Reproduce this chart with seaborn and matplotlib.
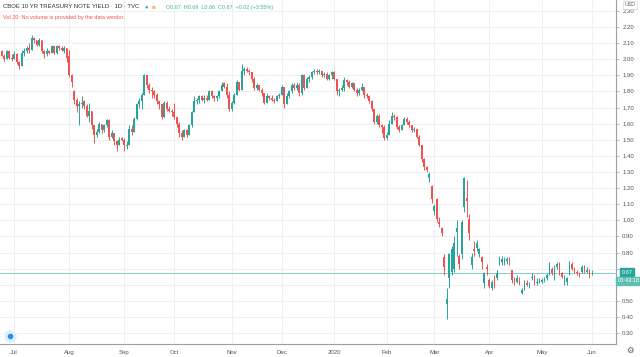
import matplotlib
matplotlib.use("Agg")
import matplotlib.pyplot as plt
from matplotlib.lines import Line2D
import seaborn as sns
import numpy as np
import pandas as pd

# trading days shown (TVC series, Jun 24 2019 .. Jun 1 2020)
holidays = ["2019-07-04", "2019-09-02", "2019-11-28", "2019-12-25", "2020-01-01",
            "2020-01-20", "2020-02-17", "2020-04-10", "2020-05-25"]
dates = pd.bdate_range("2019-06-24", "2020-06-01").drop(pd.to_datetime(holidays))

opens = [
    2.05, 2.02, 2.00, 2.05, 2.01,  # Jun
    2.00, 2.03, 1.98, 1.96, 2.04, 2.05, 2.07, 2.06, 2.13, 2.12, 2.09, 2.12, 2.05, 2.03, 2.05, 2.04, 2.08, 2.04, 2.08, 2.07, 2.05, 2.07,  # Jul
    2.02, 1.90, 1.80, 1.75, 1.71, 1.72, 1.74, 1.71, 1.65, 1.68, 1.59, 1.53, 1.55, 1.60, 1.56, 1.59, 1.62, 1.52, 1.54, 1.49, 1.47, 1.51,  # Aug
    1.50, 1.46, 1.47, 1.57, 1.55, 1.63, 1.72, 1.74, 1.78, 1.90, 1.84, 1.81, 1.80, 1.78, 1.74, 1.72, 1.64, 1.73, 1.69, 1.68,  # Sep
    1.67, 1.64, 1.60, 1.54, 1.52, 1.56, 1.53, 1.59, 1.67, 1.74, 1.75, 1.77, 1.75, 1.76, 1.75, 1.80, 1.77, 1.76, 1.77, 1.80, 1.85, 1.83, 1.78,  # Oct
    1.69, 1.73, 1.78, 1.86, 1.81, 1.93, 1.94, 1.93, 1.92, 1.88, 1.82, 1.84, 1.81, 1.79, 1.73, 1.77, 1.76, 1.75, 1.74, 1.77,  # Nov
    1.78, 1.83, 1.72, 1.77, 1.80, 1.84, 1.82, 1.84, 1.79, 1.90, 1.82, 1.88, 1.89, 1.92, 1.93, 1.92, 1.93, 1.90, 1.91, 1.88, 1.90,  # Dec
    1.92, 1.88, 1.80, 1.81, 1.82, 1.87, 1.86, 1.83, 1.85, 1.81, 1.79, 1.81, 1.83, 1.78, 1.77, 1.74, 1.69, 1.61, 1.65, 1.59, 1.58,  # Jan
    1.51, 1.53, 1.60, 1.65, 1.64, 1.58, 1.56, 1.59, 1.63, 1.61, 1.59, 1.56, 1.57, 1.52, 1.47, 1.38, 1.33, 1.26, 1.21,  # Feb
    1.06, 1.13, 0.99, 0.95, 0.77, 0.48, 0.64, 0.68, 0.70, 0.93, 0.78, 0.79, 1.08, 1.14, 1.01, 0.72, 0.82, 0.83, 0.79, 0.77, 0.61, 0.71,  # Mar
    0.63, 0.58, 0.64, 0.64, 0.74, 0.74, 0.75, 0.75, 0.76, 0.69, 0.63, 0.62, 0.64, 0.55, 0.58, 0.61, 0.60, 0.64, 0.65, 0.61, 0.62,  # Apr
    0.62, 0.63, 0.64, 0.67, 0.70, 0.65, 0.71, 0.73, 0.67, 0.61, 0.62, 0.66, 0.73, 0.70, 0.68, 0.67, 0.68, 0.71, 0.68, 0.69,  # May
    0.67,  # Jun
]
highs = [
    2.06, 2.03, 2.06, 2.06, 2.03,
    2.05, 2.04, 1.99, 2.06, 2.07, 2.08, 2.10, 2.15, 2.14, 2.12, 2.13, 2.12, 2.06, 2.07, 2.06, 2.09, 2.08, 2.09, 2.09, 2.08, 2.08, 2.07,
    2.06, 1.91, 1.81, 1.76, 1.74, 1.77, 1.75, 1.72, 1.73, 1.68, 1.59, 1.57, 1.61, 1.60, 1.60, 1.63, 1.63, 1.56, 1.54, 1.50, 1.52, 1.52,
    1.51, 1.49, 1.59, 1.59, 1.64, 1.73, 1.76, 1.79, 1.91, 1.90, 1.85, 1.83, 1.81, 1.79, 1.74, 1.72, 1.74, 1.74, 1.71, 1.69,
    1.73, 1.64, 1.61, 1.56, 1.57, 1.57, 1.60, 1.68, 1.77, 1.76, 1.78, 1.78, 1.78, 1.78, 1.81, 1.81, 1.78, 1.78, 1.81, 1.86, 1.86, 1.85, 1.80,
    1.74, 1.79, 1.87, 1.86, 1.97, 1.95, 1.95, 1.94, 1.92, 1.89, 1.85, 1.84, 1.82, 1.79, 1.79, 1.78, 1.78, 1.76, 1.78, 1.79,
    1.84, 1.83, 1.79, 1.81, 1.85, 1.85, 1.86, 1.85, 1.91, 1.91, 1.89, 1.90, 1.93, 1.94, 1.94, 1.94, 1.93, 1.92, 1.92, 1.91, 1.93,
    1.93, 1.88, 1.82, 1.84, 1.89, 1.88, 1.87, 1.86, 1.85, 1.82, 1.82, 1.85, 1.83, 1.79, 1.78, 1.75, 1.69, 1.66, 1.66, 1.60, 1.59,
    1.55, 1.62, 1.67, 1.66, 1.65, 1.59, 1.60, 1.64, 1.64, 1.62, 1.59, 1.58, 1.57, 1.53, 1.47, 1.39, 1.34, 1.30, 1.22,
    1.10, 1.14, 1.02, 0.96, 0.79, 0.58, 0.80, 0.84, 0.90, 1.00, 0.79, 1.00, 1.27, 1.25, 1.04, 0.80, 0.87, 0.88, 0.83, 0.78, 0.68, 0.73,
    0.64, 0.63, 0.66, 0.69, 0.78, 0.78, 0.77, 0.77, 0.77, 0.69, 0.65, 0.66, 0.65, 0.58, 0.63, 0.63, 0.62, 0.67, 0.66, 0.64, 0.64,
    0.64, 0.65, 0.67, 0.74, 0.71, 0.72, 0.74, 0.74, 0.68, 0.66, 0.65, 0.75, 0.74, 0.71, 0.69, 0.68, 0.72, 0.72, 0.71, 0.70,
    0.69,
]
lows = [
    2.02, 1.99, 2.00, 2.00, 1.99,
    2.00, 1.97, 1.94, 1.96, 2.02, 2.04, 2.04, 2.06, 2.10, 2.08, 2.08, 2.04, 2.01, 2.02, 2.03, 2.04, 2.03, 2.03, 2.06, 2.05, 2.04, 1.98,
    1.89, 1.83, 1.72, 1.67, 1.59, 1.70, 1.69, 1.64, 1.61, 1.57, 1.48, 1.52, 1.54, 1.54, 1.55, 1.58, 1.50, 1.51, 1.47, 1.43, 1.47, 1.49,
    1.43, 1.44, 1.47, 1.53, 1.55, 1.62, 1.70, 1.69, 1.78, 1.82, 1.79, 1.76, 1.76, 1.72, 1.69, 1.63, 1.64, 1.68, 1.67, 1.65,
    1.63, 1.58, 1.52, 1.50, 1.52, 1.52, 1.53, 1.58, 1.67, 1.72, 1.73, 1.74, 1.73, 1.74, 1.75, 1.76, 1.74, 1.74, 1.76, 1.80, 1.82, 1.76, 1.68,
    1.68, 1.72, 1.78, 1.80, 1.81, 1.90, 1.92, 1.90, 1.86, 1.81, 1.81, 1.80, 1.77, 1.72, 1.73, 1.75, 1.74, 1.73, 1.74, 1.76,
    1.78, 1.70, 1.72, 1.76, 1.79, 1.81, 1.81, 1.77, 1.78, 1.81, 1.82, 1.86, 1.88, 1.91, 1.91, 1.91, 1.89, 1.89, 1.87, 1.87, 1.88,
    1.87, 1.78, 1.77, 1.80, 1.80, 1.84, 1.82, 1.82, 1.80, 1.77, 1.78, 1.80, 1.76, 1.76, 1.73, 1.68, 1.60, 1.60, 1.58, 1.54, 1.50,
    1.50, 1.53, 1.60, 1.62, 1.57, 1.55, 1.56, 1.59, 1.60, 1.58, 1.55, 1.55, 1.51, 1.46, 1.36, 1.31, 1.30, 1.24, 1.11,
    1.03, 0.99, 0.96, 0.90, 0.66, 0.39, 0.58, 0.66, 0.68, 0.78, 0.70, 0.76, 1.05, 1.02, 0.88, 0.70, 0.78, 0.81, 0.77, 0.70, 0.58, 0.66,
    0.58, 0.57, 0.58, 0.63, 0.72, 0.72, 0.72, 0.73, 0.72, 0.61, 0.60, 0.61, 0.60, 0.54, 0.57, 0.59, 0.58, 0.63, 0.60, 0.60, 0.61,
    0.61, 0.62, 0.63, 0.66, 0.66, 0.63, 0.70, 0.66, 0.64, 0.60, 0.60, 0.66, 0.69, 0.67, 0.66, 0.65, 0.67, 0.67, 0.67, 0.64,
    0.66,
]
closes = [
    2.02, 2.00, 2.05, 2.01, 2.00,
    2.03, 1.98, 1.96, 2.04, 2.05, 2.07, 2.06, 2.13, 2.12, 2.09, 2.12, 2.05, 2.03, 2.05, 2.04, 2.08, 2.04, 2.08, 2.07, 2.06, 2.07, 2.01,
    1.90, 1.86, 1.75, 1.71, 1.72, 1.73, 1.71, 1.65, 1.68, 1.59, 1.53, 1.55, 1.60, 1.56, 1.59, 1.62, 1.52, 1.54, 1.49, 1.47, 1.50, 1.50,
    1.47, 1.47, 1.57, 1.55, 1.63, 1.72, 1.74, 1.78, 1.90, 1.84, 1.81, 1.80, 1.78, 1.74, 1.72, 1.64, 1.73, 1.69, 1.68, 1.67,
    1.64, 1.60, 1.54, 1.52, 1.56, 1.53, 1.59, 1.67, 1.74, 1.75, 1.77, 1.75, 1.76, 1.75, 1.80, 1.77, 1.76, 1.77, 1.80, 1.84, 1.83, 1.78, 1.69,
    1.73, 1.78, 1.86, 1.81, 1.93, 1.94, 1.93, 1.92, 1.88, 1.82, 1.84, 1.81, 1.79, 1.73, 1.77, 1.76, 1.75, 1.74, 1.77, 1.78,
    1.83, 1.72, 1.77, 1.80, 1.84, 1.82, 1.84, 1.79, 1.90, 1.82, 1.88, 1.89, 1.92, 1.93, 1.92, 1.93, 1.90, 1.91, 1.88, 1.90, 1.92,
    1.88, 1.80, 1.81, 1.82, 1.87, 1.86, 1.83, 1.85, 1.81, 1.79, 1.81, 1.83, 1.78, 1.77, 1.74, 1.69, 1.61, 1.65, 1.59, 1.58, 1.51,
    1.53, 1.60, 1.65, 1.64, 1.58, 1.56, 1.59, 1.63, 1.61, 1.59, 1.56, 1.57, 1.52, 1.47, 1.38, 1.33, 1.31, 1.29, 1.13,
    1.09, 1.01, 0.98, 0.92, 0.71, 0.51, 0.79, 0.82, 0.86, 0.95, 0.73, 0.99, 1.26, 1.12, 0.92, 0.77, 0.81, 0.86, 0.82, 0.74, 0.67, 0.70,
    0.59, 0.62, 0.60, 0.67, 0.75, 0.76, 0.76, 0.76, 0.75, 0.63, 0.62, 0.64, 0.61, 0.57, 0.61, 0.60, 0.61, 0.65, 0.61, 0.62, 0.63,
    0.63, 0.64, 0.66, 0.72, 0.67, 0.70, 0.73, 0.68, 0.65, 0.64, 0.64, 0.74, 0.70, 0.68, 0.67, 0.66, 0.71, 0.68, 0.69, 0.65,
    0.67,
]

month_labels = ["Jul", "Aug", "Sep", "Oct", "Nov", "Dec", "2020", "Feb", "Mar", "Apr", "May", "Jun"]
y_ticks = [0.30, 0.40, 0.50, 0.60, 0.70, 0.80, 0.90, 1.00, 1.10, 1.20, 1.30,
           1.40, 1.50, 1.60, 1.70, 1.80, 1.90, 2.00, 2.10, 2.20, 2.30]
hidden_ticks = [0.60, 0.70]   # covered by the last-price / countdown boxes
last_price = 0.67

UP, DOWN = "#26a69a", "#ef5350"
GRID = "#eef0f4"
AXC = "#9aa0a6"

sns.set_theme(style="white")
plt.rcParams["font.family"] = ["Liberation Sans", "DejaVu Sans"]

df = pd.DataFrame({"date": dates, "open": opens, "high": highs, "low": lows, "close": closes})
df["i"] = np.arange(len(df))
df["up"] = df["close"] >= df["open"]
df["color"] = np.where(df["up"], UP, DOWN)

fig = plt.figure(figsize=(6.4, 3.57), dpi=100)
ax = fig.add_axes([0, 13 / 357, 616 / 640, 344 / 357])

# month grid lines / ticks at first trading day of each month
month_start = df.groupby(df["date"].dt.to_period("M"))["i"].min().iloc[1:]
for xv in month_start.values:
    ax.axvline(xv, color=GRID, lw=0.7, zorder=0)
for yv in y_ticks:
    ax.axhline(yv, color=GRID, lw=0.7, zorder=0)

# candles
ax.vlines(df["i"], df["low"], df["high"], colors=df["color"], lw=0.7, zorder=2)
body = np.maximum((df["close"] - df["open"]).abs(), 0.004)
ax.bar(df["i"], body, bottom=np.minimum(df["open"], df["close"]), width=0.72,
       color=df["color"], lw=0, zorder=3)

ax.axhline(last_price, color="#4db6ac", lw=0.6, alpha=0.8, zorder=1)

ax.set_xlim(-0.6, 245.6)
ax.set_ylim(0.232, 2.368)

ax.yaxis.tick_right()
ax.set_yticks(y_ticks)
ax.set_yticklabels(["" if any(abs(v - h) < 1e-9 for h in hidden_ticks) else f"{v:.2f}"
                    for v in y_ticks])
ax.set_xticks(month_start.values)
ax.set_xticklabels(month_labels)
ax.tick_params(axis="both", labelsize=4.3, colors=AXC, length=2.5, width=0.5, pad=2)
ax.tick_params(axis="y", labelcolor="#555555")
ax.tick_params(axis="x", labelcolor="#555555")
for s in ["left", "top"]:
    ax.spines[s].set_visible(False)
for s in ["right", "bottom"]:
    ax.spines[s].set_color(AXC)
    ax.spines[s].set_linewidth(0.8)

# header
def px(x, y):
    return x / 640, 1 - y / 357

fig.text(*px(3, 7), "CBOE 10 YR TREASURY NOTE YIELD · 1D · TVC", fontsize=4.3,
         color="#333333", va="center")
fig.text(*px(146, 7), "●", fontsize=4, color=UP, va="center", ha="center")
fig.text(*px(153, 7), "■", fontsize=4.5, color="#f9b36b", va="center", ha="center")
fig.text(*px(166, 7), "O0.67  H0.69  L0.66  C0.67  +0.02 (+3.55%)", fontsize=3.9,
         color="#3cae9f", va="center")
fig.text(*px(3, 17), "Vol 20: No volume is provided by the data vendor.", fontsize=4,
         color="#ef5350", va="center")

# right-side boxes
fig.text(*px(630, 5), "USD", fontsize=3.8, color="#666666", va="center", ha="center",
         bbox=dict(boxstyle="square,pad=0.25", fc="white", ec="#d0d4dc", lw=0.5))
fig.text(*px(627, 272), "0.67", fontsize=4.1, color="white", va="center", ha="center",
         bbox=dict(boxstyle="square,pad=0.35", fc=UP, ec=UP))
fig.text(*px(629, 281), "00:43:18", fontsize=4.1, color="white", va="center", ha="center",
         bbox=dict(boxstyle="square,pad=0.3", fc="#5cbfb3", ec="#5cbfb3"))
fig.text(*px(630, 350), "⚙", fontsize=6, color="#555555", va="center", ha="center",
         family="DejaVu Sans")

# small logo badge bottom-left
lx, ly = px(10, 336)
fig.add_artist(Line2D([lx], [ly], marker="o", ms=9, mfc="#dcefff", mec="none",
                      transform=fig.transFigure, zorder=5))
fig.add_artist(Line2D([lx], [ly], marker="o", ms=4, mfc="#2a8ee8", mec="none",
                      transform=fig.transFigure, zorder=6))

fig.savefig("out.png", dpi=100)
